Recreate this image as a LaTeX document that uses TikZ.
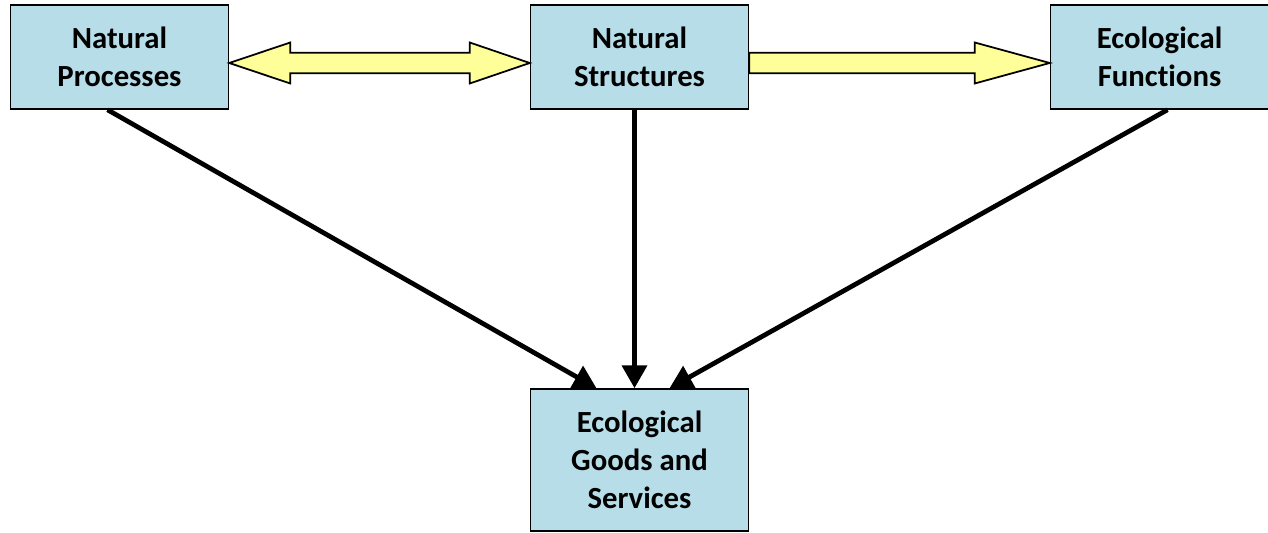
\documentclass[tikz,border=0pt]{standalone}
\usepackage{fontspec}
\setmainfont[Ligatures=NoCommon]{Carlito}
\usetikzlibrary{calc,arrows.meta}
\definecolor{boxblue}{RGB}{183,221,232}
\definecolor{fatyellow}{RGB}{255,255,153}
\tikzset{
  box/.style={draw=black, line width=0.9pt, fill=boxblue, minimum width=4.36cm,
    minimum height=2.08cm, align=center, inner sep=0pt,
    font=\bfseries\fontsize{17.5}{21.5}\selectfont},
  fatarrow/.style={draw=black, line width=1pt, fill=fatyellow, line join=miter},
  link/.style={line width=2.7pt, -{Triangle[length=13pt,width=14pt]}}
}
\begin{document}
\begin{tikzpicture}[x=0.02cm, y=-0.02cm]
      \useasboundingbox (0,0) rectangle (1268,533);
      \draw
        (119.5,57) node[box] (proc){Natural\\Processes}
        (639.5,57) node[box] (struct){Natural\\Structures}
        (1159.5,57) node[box] (func){Ecological\\Functions}
        (639.5,460) node[box, minimum height=2.84cm] (goods){Ecological\\Goods and\\Services};
      % fat arrows between the top boxes
      \path ($(proc.east)+(0,6)$) coordinate (pl) ($(struct.west)+(0,6)$) coordinate (pr);
      \draw[fatarrow] (pl) -- ++(61,-20.5) -- ++(0,10.2) -- ($(pr)+(-60,-10.3)$)
        -- ++(0,-10.2) -- (pr) -- ++(-60,20.5) -- ++(0,-10.2)
        -- ($(pl)+(61,10.3)$) -- ++(0,10.2) -- cycle;
      \path ($(struct.east)+(0,6)$) coordinate (sl) ($(func.west)+(0,6)$) coordinate (sr);
      \draw[fatarrow] ($(sl)+(0,-10.3)$) -- ($(sr)+(-75,-10.3)$) -- ++(0,-10.2)
        -- (sr) -- ++(-75,20.5) -- ++(0,-10.2) -- ($(sl)+(0,10.3)$) -- cycle;
      \begin{scope}[link]
        \draw ($(proc.south)+(-12,0)$) to ($(goods.north)+(-43,0)$);
        \draw ($(struct.south)+(-5,0)$) to ($(goods.north)+(-5,0)$);
        \draw ($(func.south)+(8,0)$) to ($(goods.north)+(30,0)$);
      \end{scope}
    \end{tikzpicture}
\end{document}
